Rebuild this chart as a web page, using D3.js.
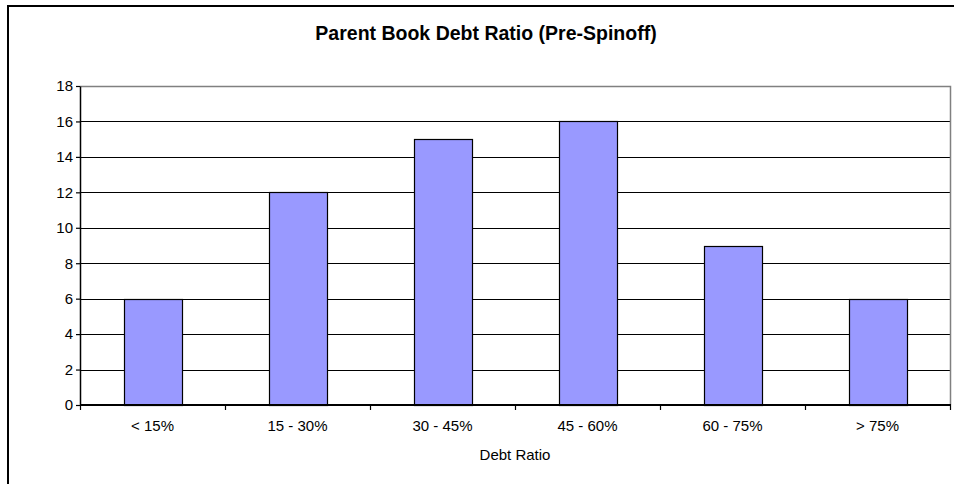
<!DOCTYPE html>
<html>
<head>
<meta charset="utf-8">
<script src="https://cdn.jsdelivr.net/npm/d3@7"></script>
<style>
  html, body { margin: 0; padding: 0; background: #fff; }
  svg { display: block; font-family: Arial, "Liberation Sans", sans-serif; }
</style>
</head>
<body>
<svg id="chart" width="954" height="484"></svg>
<script>
// Distribution of parent-company book debt ratios before the spinoff
const categories = ["< 15%", "15 - 30%", "30 - 45%", "45 - 60%", "60 - 75%", "> 75%"];
const counts = [6, 12, 15, 16, 9, 6];
const yTicks = [0, 2, 4, 6, 8, 10, 12, 14, 16, 18];

const svg = d3.select("#chart");
const W = 954, H = 484;
const plot = { left: 80, top: 86, right: 950, bottom: 405 };
const FONT = "Arial, 'Liberation Sans', sans-serif";

// Outer chart frame (runs off the right and bottom edges)
svg.append("rect")
  .attr("x", 8).attr("y", 6)
  .attr("width", W + 20).attr("height", H + 20)
  .attr("fill", "#fff").attr("stroke", "#000").attr("stroke-width", 2);

const x = d3.scaleBand()
  .domain(categories)
  .range([plot.left, plot.right])
  .paddingInner(0.6)
  .paddingOuter(0.3);

const y = d3.scaleLinear()
  .domain([0, 18])
  .range([plot.bottom, plot.top]);

// Horizontal gridlines
svg.append("g")
  .selectAll("line")
  .data(yTicks.filter(d => d > 0 && d < 18))
  .join("line")
  .attr("x1", plot.left).attr("x2", plot.right)
  .attr("y1", d => Math.round(y(d)) + 0.5).attr("y2", d => Math.round(y(d)) + 0.5)
  .attr("stroke", "#000").attr("stroke-width", 1);

// Plot area border (top and right, grey)
svg.append("path")
  .attr("d", `M${plot.left},${plot.top + 0.5}H${plot.right + 0.5}V${plot.bottom}`)
  .attr("fill", "none").attr("stroke", "#808080").attr("stroke-width", 1.5);

// Bars
svg.append("g")
  .selectAll("rect")
  .data(counts)
  .join("rect")
  .attr("x", (d, i) => Math.round(x(categories[i])) + 0.5)
  .attr("y", d => Math.round(y(d)) + 0.5)
  .attr("width", x.bandwidth())
  .attr("height", d => Math.round(y(0)) - Math.round(y(d)))
  .attr("fill", "#9999FF")
  .attr("stroke", "#000").attr("stroke-width", 1.2);

// Y axis
const yAxis = svg.append("g")
  .attr("transform", `translate(${plot.left},0)`)
  .call(d3.axisLeft(y).tickValues(yTicks).tickSize(4).tickPadding(3).tickSizeOuter(0));
yAxis.select(".domain").attr("stroke", "#000").attr("stroke-width", 1.5);
yAxis.selectAll(".tick line").attr("stroke", "#000").attr("stroke-width", 1.2);
yAxis.selectAll(".tick text")
  .attr("font-size", 15).attr("fill", "#000")
  .attr("font-family", FONT);

// X axis: ticks sit on the category boundaries
const xAxisG = svg.append("g")
  .attr("transform", `translate(0,${plot.bottom})`);
xAxisG.append("line")
  .attr("x1", plot.left).attr("x2", plot.right + 1)
  .attr("stroke", "#000").attr("stroke-width", 2);
const bounds = d3.range(categories.length + 1).map(i => plot.left + i * x.step());
xAxisG.selectAll("line.tk")
  .data(bounds)
  .join("line").attr("class", "tk")
  .attr("x1", d => Math.round(d) + 0.5).attr("x2", d => Math.round(d) + 0.5)
  .attr("y1", 0).attr("y2", 5)
  .attr("stroke", "#000").attr("stroke-width", 1.2);
xAxisG.selectAll("text")
  .data(categories)
  .join("text")
  .attr("x", d => x(d) + x.bandwidth() / 2)
  .attr("y", 26)
  .attr("text-anchor", "middle")
  .attr("font-size", 15)
  .attr("fill", "#000")
  .text(d => d);

// Axis title
svg.append("text")
  .attr("x", (plot.left + plot.right) / 2)
  .attr("y", 460)
  .attr("text-anchor", "middle")
  .attr("font-size", 15)
  .attr("fill", "#000")
  .text("Debt Ratio");

// Chart title
svg.append("text")
  .attr("x", 486)
  .attr("y", 40)
  .attr("text-anchor", "middle")
  .attr("font-size", 19.5)
  .attr("font-weight", "bold")
  .attr("fill", "#000")
  .text("Parent Book Debt Ratio (Pre-Spinoff)");
</script>
</body>
</html>
